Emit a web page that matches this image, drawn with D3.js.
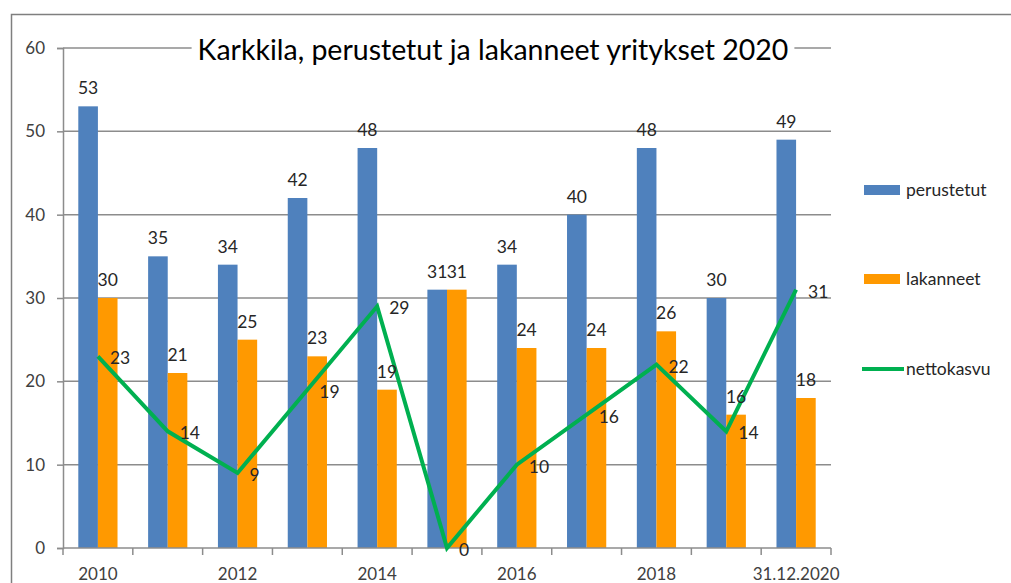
<!DOCTYPE html>
<html>
<head>
<meta charset="utf-8">
<script src="https://cdn.jsdelivr.net/npm/d3@7"></script>
<style>
  body { margin: 0; background: #fff; }
  svg { display: block; font-family: Lato, "Open Sans", sans-serif; }
</style>
</head>
<body>
<div id="chart"></div>
<script>
var w = 1011, h = 583;

// data
var years = ['2010', '2011', '2012', '2013', '2014', '2015', '2016', '2017', '2018', '2019', '31.12.2020'];
var shownTicks = ['2010', '2012', '2014', '2016', '2018', '31.12.2020'];
var perustetut = [53, 35, 34, 42, 48, 31, 34, 40, 48, 30, 49];
var lakanneet = [30, 21, 25, 23, 19, 31, 24, 24, 26, 16, 18];
var nettokasvu = [23, 14, 9, 19, 29, 0, 10, 16, 22, 14, 31];
var yTicks = [0, 10, 20, 30, 40, 50, 60];

var colors = { perustetut: '#4F81BD', lakanneet: '#FF9900', nettokasvu: '#00B050' };

var svg = d3.select('#chart').append('svg')
  .attr('width', w)
  .attr('height', h);

// outer frame
svg.append('rect')
  .attr('x', 11.5).attr('y', 14.5)
  .attr('width', w + 10).attr('height', h + 10)
  .attr('fill', 'none')
  .attr('stroke', '#7f7f7f')
  .attr('stroke-width', 1.5);

var plot = { left: 63, right: 831, top: 48, bottom: 548 };

var x = d3.scaleBand()
  .domain(years)
  .range([plot.left, plot.right]);

var xInner = d3.scaleBand()
  .domain(['perustetut', 'lakanneet'])
  .range([0, x.bandwidth()])
  .paddingOuter(0.78)
  .paddingInner(0);

var y = d3.scaleLinear()
  .domain([0, 60])
  .range([plot.bottom, plot.top]);

// gridlines
svg.append('g')
  .selectAll('line')
  .data(yTicks.slice(1))
  .enter().append('line')
  .attr('x1', plot.left).attr('x2', plot.right)
  .attr('y1', function(d) { return y(d); })
  .attr('y2', function(d) { return y(d); })
  .attr('stroke', '#8c8c8c')
  .attr('stroke-width', 1.5);

// title with white box over the top gridline
var titleG = svg.append('g');
var titleBg = titleG.append('rect').attr('fill', '#fff');
var title = titleG.append('text')
  .attr('x', 493)
  .attr('y', 60)
  .attr('text-anchor', 'middle')
  .attr('font-size', 28.5)
  .attr('fill', '#000')
  .text('Karkkila, perustetut ja lakanneet yritykset 2020');
var tb = title.node().getBBox();
titleBg
  .attr('x', tb.x - 6).attr('y', tb.y)
  .attr('width', tb.width + 12).attr('height', tb.height);

// y axis
var yAxis = svg.append('g')
  .attr('transform', 'translate(' + plot.left + ',0)')
  .call(d3.axisLeft(y).tickValues(yTicks).tickSize(6).tickPadding(12));
yAxis.select('.domain').attr('stroke', '#8c8c8c').attr('stroke-width', 1.5);
yAxis.selectAll('.tick line').attr('stroke', '#8c8c8c').attr('stroke-width', 1.5);
yAxis.selectAll('.tick text')
  .attr('font-size', 17)
  .attr('fill', '#404040')
  .attr('font-family', 'Lato, "Open Sans", sans-serif');

// bars
var seriesNames = ['perustetut', 'lakanneet'];
var seriesData = { perustetut: perustetut, lakanneet: lakanneet };

seriesNames.forEach(function(s) {
  svg.append('g')
    .selectAll('rect')
    .data(seriesData[s])
    .enter().append('rect')
    .attr('x', function(d, i) { return x(years[i]) + xInner(s); })
    .attr('width', xInner.bandwidth())
    .attr('y', function(d) { return y(d); })
    .attr('height', function(d) { return y(0) - y(d); })
    .attr('fill', colors[s]);
});

// x axis
var xAxisG = svg.append('g');
xAxisG.append('line')
  .attr('x1', plot.left).attr('x2', plot.right)
  .attr('y1', y(0)).attr('y2', y(0))
  .attr('stroke', '#8c8c8c').attr('stroke-width', 1.5);
xAxisG.selectAll('line.tick')
  .data(years.concat(['end']))
  .enter().append('line')
  .attr('class', 'tick')
  .attr('x1', function(d, i) { return i < years.length ? x(d) : plot.right; })
  .attr('x2', function(d, i) { return i < years.length ? x(d) : plot.right; })
  .attr('y1', y(0)).attr('y2', y(0) + 7)
  .attr('stroke', '#8c8c8c').attr('stroke-width', 1.5);
xAxisG.selectAll('text')
  .data(shownTicks)
  .enter().append('text')
  .attr('x', function(d) { return x(d) + x.bandwidth() / 2; })
  .attr('y', y(0) + 32)
  .attr('text-anchor', 'middle')
  .attr('font-size', 17)
  .attr('fill', '#404040')
  .text(function(d) { return d; });

// line
var line = d3.line()
  .x(function(d, i) { return x(years[i]) + x.bandwidth() / 2; })
  .y(function(d) { return y(d); });

svg.append('path')
  .datum(nettokasvu)
  .attr('d', line)
  .attr('fill', 'none')
  .attr('stroke', colors.nettokasvu)
  .attr('stroke-width', 4)
  .attr('stroke-linejoin', 'miter');

// data labels
seriesNames.forEach(function(s) {
  svg.append('g')
    .selectAll('text')
    .data(seriesData[s])
    .enter().append('text')
    .attr('x', function(d, i) { return x(years[i]) + xInner(s) + xInner.bandwidth() / 2; })
    .attr('y', function(d) { return y(d) - 12; })
    .attr('text-anchor', 'middle')
    .attr('font-size', 17.5)
    .attr('fill', '#262626')
    .text(function(d) { return d; });
});

svg.append('g')
  .selectAll('text')
  .data(nettokasvu)
  .enter().append('text')
  .attr('x', function(d, i) { return x(years[i]) + x.bandwidth() / 2 + 12; })
  .attr('y', function(d) { return y(d) + 8; })
  .attr('font-size', 17.5)
  .attr('fill', '#262626')
  .text(function(d) { return d; });

// legend
var legendItems = [
  { name: 'perustetut', type: 'bar', y: 190 },
  { name: 'lakanneet', type: 'bar', y: 279 },
  { name: 'nettokasvu', type: 'line', y: 369 }
];
var legend = svg.append('g');
legendItems.forEach(function(it) {
  if (it.type === 'bar') {
    legend.append('rect')
      .attr('x', 864).attr('y', it.y - 5)
      .attr('width', 36).attr('height', 10)
      .attr('fill', colors[it.name]);
  } else {
    legend.append('line')
      .attr('x1', 862).attr('x2', 904)
      .attr('y1', it.y).attr('y2', it.y)
      .attr('stroke', colors[it.name])
      .attr('stroke-width', 4);
  }
  legend.append('text')
    .attr('x', 906).attr('y', it.y + 6)
    .attr('font-size', 17.5)
    .attr('fill', '#262626')
    .text(it.name);
});
</script>
</body>
</html>
